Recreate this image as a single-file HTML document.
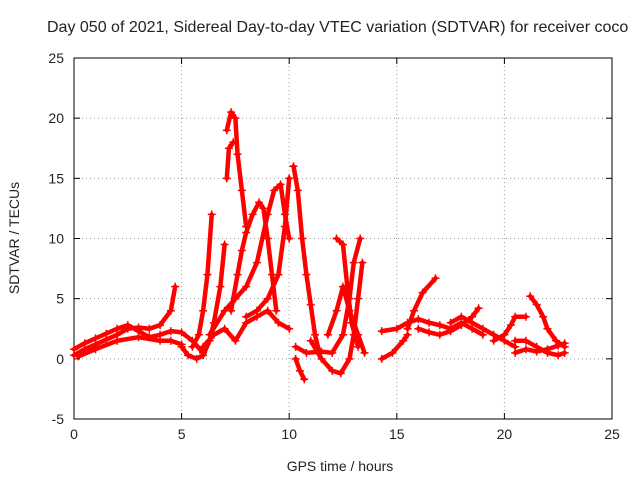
<!DOCTYPE html>
<html><head><meta charset="utf-8"><style>
body{margin:0;background:#fff;}
svg text{font-family:"Liberation Sans",sans-serif;font-size:14px;fill:#222;}
</style></head><body>
<svg id="chart" width="640" height="480" xmlns="http://www.w3.org/2000/svg">
<rect width="640" height="480" fill="#fff"/>
<text x="47" y="32" style="font-size:16px">Day 050 of 2021, Sidereal Day-to-day VTEC variation (SDTVAR) for receiver coco</text>
<g id="grid"></g>
<g id="axes"></g>
<g id="series"></g>
<text x="340" y="471" text-anchor="middle">GPS time / hours</text>
<text x="0" y="0" text-anchor="middle" transform="translate(19,238) rotate(-90)">SDTVAR / TECUs</text>
</svg>
<script>
const xTicks=[0,5,10,15,20,25];
const yTicks=[-5,0,5,10,15,20,25];
const tracks=[
[[0,0.3],[0.5,0.8],[1,1.2],[1.5,1.6],[2,2.0],[2.5,2.5],[3,2.6],[3.5,2.5],[4,2.8],[4.5,4],[4.7,6]],
[[0,0.8],[0.5,1.3],[1,1.7],[1.5,2.1],[2,2.5],[2.5,2.8],[3,2.3],[3.5,1.8],[4,2.0],[4.5,2.3],[5,2.2],[5.5,1.5],[6,0.5]],
[[0.2,0.2],[1,0.8],[2,1.5],[3,1.8],[4,1.5],[4.5,1.5],[5,1.2]],
[[5,1],[5.3,0.3],[5.7,0],[6,0.3],[6.3,1.5],[6.5,3],[6.8,6],[7,9.5]],
[[5.5,1],[5.8,2],[6,4],[6.2,7],[6.4,12]],
[[7.1,19],[7.3,20.5],[7.5,20],[7.6,17],[7.8,14],[8,11]],
[[7.1,15],[7.2,17.5],[7.4,18]],
[[7.3,4],[7.6,7],[7.8,9],[8,10.5],[8.3,12],[8.6,13],[8.8,12.5],[9,10],[9.2,7],[9.4,4]],
[[6.3,2],[7,4],[7.5,5],[8,6],[8.5,8],[9,12],[9.3,14],[9.6,14.5],[9.8,12],[10,10]],
[[8,3.5],[8.5,4],[9,5],[9.5,7],[9.8,11],[10,15]],
[[6,1],[6.5,2],[7,2.5],[7.5,1.5],[8,3],[8.5,3.5],[9,4],[9.5,3],[10,2.5]],
[[10.2,16],[10.4,14],[10.6,10],[10.8,7],[11,4.5],[11.2,2],[11.4,0.5]],
[[10.3,0],[10.5,-1],[10.7,-1.7]],
[[10.3,1],[10.8,0.5],[11.5,0.6],[12,0.5],[12.5,2],[12.8,5],[13,8],[13.3,10]],
[[11,1.5],[11.5,0],[12,-1],[12.4,-1.2],[12.8,0],[13,2],[13.2,5],[13.4,8]],
[[12.2,10],[12.5,9.5],[12.7,6],[12.9,3],[13.2,1]],
[[11.8,2],[12.2,4],[12.5,6],[12.8,4],[13.2,2],[13.5,0.5]],
[[14.3,0],[14.8,0.5],[15.3,1.5],[15.5,2]],
[[14.3,2.3],[15,2.5],[15.5,3],[16,3.3],[16.5,3],[17,2.8],[17.5,2.5],[18,3],[18.5,2.5],[19,2]],
[[15.5,2.5],[15.8,4],[16.2,5.5],[16.8,6.7]],
[[16,2.5],[16.5,2.2],[17,2],[17.5,2.3],[18,2.8],[18.5,3.5],[18.8,4.2]],
[[17.5,3],[18,3.5],[18.5,3],[19,2.5],[19.5,2],[20,1.5],[20.5,1]],
[[19.5,1.5],[20,2],[20.3,2.8],[20.5,3.5],[21,3.5]],
[[20.5,1.5],[21,1.5],[21.5,1],[22,0.5],[22.5,0.3],[22.8,0.5]],
[[21.2,5.2],[21.5,4.5],[21.8,3.5],[22,2.5],[22.4,1.5],[22.8,1]],
[[20.5,0.5],[21,0.8],[21.5,0.6],[22,0.8],[22.5,1.1],[22.8,1.3]]
];
const L=74,R=612,T=58,B=419;
const xs=v=>L+(v-0)/25*(R-L);
const ys=v=>B-(v+5)/30*(B-T);
const NS="http://www.w3.org/2000/svg";
function mk(tag,attrs,parent){const e=document.createElementNS(NS,tag);for(const k in attrs)e.setAttribute(k,attrs[k]);parent.appendChild(e);return e;}
const grid=document.getElementById('grid'),axes=document.getElementById('axes'),ser=document.getElementById('series');
xTicks.forEach(t=>{const x=xs(t);
 if(t>0&&t<25){const g=mk('line',{x1:x,x2:x,y1:T,y2:B,stroke:'#999','stroke-dasharray':'1,3'},grid);}
 mk('line',{x1:x,x2:x,y1:B,y2:B-6,stroke:'#000'},axes);mk('line',{x1:x,x2:x,y1:T,y2:T+6,stroke:'#000'},axes);
 const tx=mk('text',{x:x,y:B+20,'text-anchor':'middle'},axes);tx.textContent=t;
 });
yTicks.forEach(t=>{const y=ys(t);
 if(t>-5&&t<25){const g=mk('line',{x1:L,x2:R,y1:y,y2:y,stroke:'#999','stroke-dasharray':'1,3'},grid);}
 mk('line',{x1:L,x2:L+6,y1:y,y2:y,stroke:'#000'},axes);mk('line',{x1:R,x2:R-6,y1:y,y2:y,stroke:'#000'},axes);
 const tx=mk('text',{x:L-10,y:y+5,'text-anchor':'end'},axes);tx.textContent=t;
 });
const fr=mk('rect',{x:L,y:T,width:R-L,height:B-T,fill:'none',stroke:'#000'},axes);

tracks.forEach(tr=>{
 const pl=mk('polyline',{points:tr.map(p=>xs(p[0])+','+ys(p[1])).join(' '),fill:'none',stroke:'#f00','stroke-width':4.5,'stroke-linejoin':'round','stroke-linecap':'round'},ser);
 
 
 tr.forEach(p=>{const x=xs(p[0]),y=ys(p[1]);
  const m=mk('path',{d:`M${x-4},${y}H${x+4}M${x},${y-4}V${y+4}`,stroke:'#f00','stroke-width':1.5},ser);
  
  });
});
</script>
</body></html>
